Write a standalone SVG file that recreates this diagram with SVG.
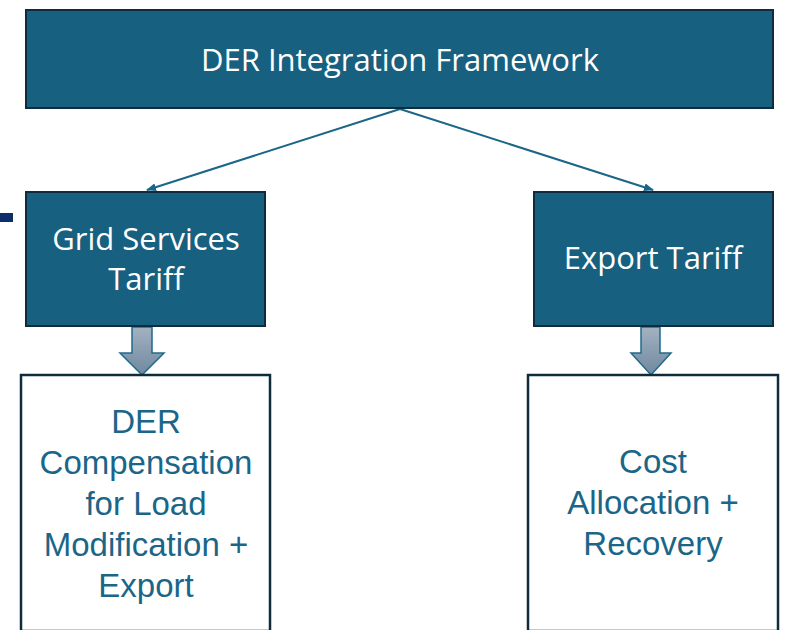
<svg xmlns="http://www.w3.org/2000/svg" width="787" height="630" viewBox="0 0 787 630">
<defs>
<style>
.box{fill:#17607F;stroke:#0E2C3C;stroke-width:2}
.wbox{fill:#FFFFFF;stroke:#0E2C3C;stroke-width:2.5}
.wt{fill:#FFFFFF;font-family:"Open Sans","Noto Sans",sans-serif;font-size:31px;text-anchor:middle}
.bt{fill:#1B6688;font-family:"Liberation Sans",Arial,sans-serif;font-size:33px;text-anchor:middle}
.conn{stroke:#1B6688;stroke-width:2;fill:none;marker-end:url(#ah)}
.blk{fill:url(#g);stroke:#1F6B8A;stroke-width:1.5}
</style>
<linearGradient id="g" x1="0" y1="0" x2="0" y2="1">
<stop offset="0" stop-color="#A3B2C2"/>
<stop offset="1" stop-color="#6F889F"/>
</linearGradient>
<marker id="ah" markerWidth="10" markerHeight="8" refX="9" refY="4" orient="auto" markerUnits="userSpaceOnUse">
<path d="M0,0 L10,4 L0,8 Z" fill="#1B6688"/>
</marker>
</defs>
<rect x="0" y="213" width="13" height="9" fill="#0D2E6B"/>
<g id="connectors">
<line class="conn" x1="400" y1="109" x2="147" y2="190"/>
<line class="conn" x1="400" y1="109" x2="653" y2="190"/>
<path class="blk" d="M132,327 L152,327 L152,353 L164,353 L142,375 L120,353 L132,353 Z"/>
<path class="blk" d="M641,327 L660,327 L660,353 L671,353 L651,375 L631,353 L641,353 Z"/>
</g>
<g id="framework">
<rect class="box" x="26" y="10" width="747" height="98"/>
<text class="wt" x="400" y="71">DER Integration Framework</text>
</g>
<g id="grid">
<rect class="box" x="26" y="192" width="239" height="134"/>
<text class="wt" x="146" y="250">Grid Services</text>
<text class="wt" x="146" y="290">Tariff</text>
</g>
<g id="export">
<rect class="box" x="534" y="192" width="239" height="134"/>
<text class="wt" x="653" y="269">Export Tariff</text>
</g>
<g id="compensation">
<rect class="wbox" x="21" y="375" width="249" height="256"/>
<text class="bt" x="146" y="433">DER</text>
<text class="bt" x="146" y="474">Compensation</text>
<text class="bt" x="146" y="515">for Load</text>
<text class="bt" x="146" y="556">Modification +</text>
<text class="bt" x="146" y="597">Export</text>
</g>
<g id="cost">
<rect class="wbox" x="528" y="375" width="250" height="256"/>
<text class="bt" x="653" y="473">Cost</text>
<text class="bt" x="653" y="514">Allocation +</text>
<text class="bt" x="653" y="555">Recovery</text>
</g>
</svg>
